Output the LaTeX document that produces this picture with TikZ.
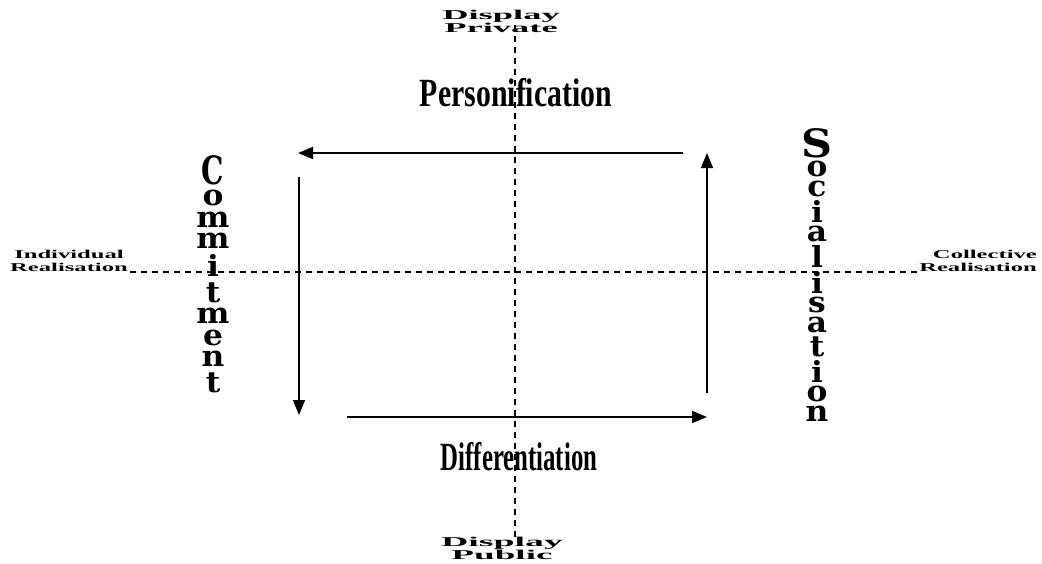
\documentclass[tikz,border=0pt]{standalone}
\usepackage{fontspec}
\usepackage{graphicx}
\usepackage{pdfrender}
\setmainfont{Liberation Serif}
\newfontfamily\stackfont{DejaVu Serif}
\usetikzlibrary{arrows.meta,positioning}

% outlined lettering
\newcommand\hollow[2][0.7]{\textpdfrender{TextRenderingMode=FillStroke,LineWidth=#1}{#2}}
% one letter of a vertical word
\newcommand\nl[1]{\scalebox{1.08}[1]{\hollow[0.5]{#1}}}

\begin{document}
\begin{tikzpicture}[x=1pt,y=-1pt,
  axis/.style={line width=1.3pt, dash pattern=on 6pt off 5pt},
  flow/.style={line width=1.6pt, -{Triangle[length=15pt,width=12pt]}},
  title/.style={inner sep=0, anchor=base, font=\bfseries\fontsize{40}{40}\selectfont},
  pole/.style={inner sep=0, font=\bfseries\fontsize{12}{13.5}\selectfont},
  display/.style={inner sep=0, align=center, font=\bfseries\fontsize{13.5}{13.5}\selectfont},
  letter/.style={inner sep=0, font=\stackfont\bfseries\fontsize{29}{29}\selectfont},
  capletter/.style={inner sep=0, anchor=north, font=\stackfont\bfseries\fontsize{39}{39}\selectfont}]

\path[use as bounding box] (0,0) rectangle (1042,563);

% axes
\coordinate (vtop) at (515,25);
\coordinate (vbot) at (515,540);
\coordinate (hleft) at (130,272);
\coordinate (hright) at (918,272);
\draw[axis] (vtop) -- (vbot);
\draw[axis] (hleft) -- (hright);

% pole labels
\node[display] (private) at (501,21.5)
  {\scalebox{2.7}[1]{\hollow[0.3]{Display}}\\\scalebox{2.7}[1]{\hollow[0.3]{Private}}};
\node[display] (public) at (502,548.5)
  {\scalebox{2.8}[1]{\hollow[0.3]{Display}}\\\scalebox{2.75}[1]{\hollow[0.3]{Public}}};
\node[pole, align=center] (indiv) at (69,261)
  {\scalebox{2.05}[1]{\hollow[0.3]{Individual}}\\\scalebox{2.05}[1]{\hollow[0.3]{Realisation}}};
\node[pole, align=right, anchor=east] (coll) at (1037,261)
  {\scalebox{2.05}[1]{\hollow[0.3]{Collective}}\\\scalebox{2.05}[1]{\hollow[0.3]{Realisation}}};

% phase titles
\node[title] (pers) at (516,106) {\scalebox{0.745}[1]{\hollow[0.4]{Personification}}};
\node[title] (diff) at (519,470) {\scalebox{0.62}[1]{\hollow[0.4]{Differentiation}}};

% Commitment, set letter by letter down the left side
\node[capletter] (com0) at (213,155) {\scalebox{0.72}[1]{\hollow[0.5]{C}}};
\foreach \ch [count=\i, evaluate=\i as \j using int(\i-1)] in {o,m,m,i,t,m,e,n,t}
  \node[letter, below=5.4pt of com\j] (com\i) {\nl{\ch}};

% Socialisation, set letter by letter down the right side
\node[capletter] (soc0) at (817,128) {\scalebox{1.1}[1]{\hollow[0.5]{S}}};
\foreach \ch [count=\i, evaluate=\i as \j using int(\i-1)] in {o,c,i,a,l,i,s,a,t,i,o,n}
  \node[letter, below=3.3pt of soc\j] (soc\i) {\nl{\ch}};

% cycle of arrows
\coordinate (tr) at (683,153);
\coordinate (tl) at (298,153);
\coordinate (lt) at (299,177);
\coordinate (lb) at (299,415);
\coordinate (bl) at (347,417);
\coordinate (br) at (707,417);
\coordinate (rb) at (707,393);
\coordinate (rt) at (707,153);
\draw[flow] (tr) -- (tl);
\draw[flow] (lt) -- (lb);
\draw[flow] (bl) -- (br);
\draw[flow] (rb) -- (rt);
\end{tikzpicture}
\end{document}
